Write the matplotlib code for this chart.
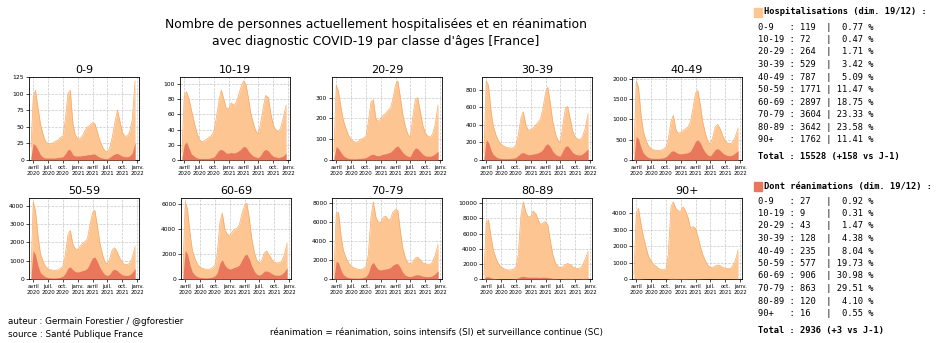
import numpy as np
import pandas as pd
import matplotlib
matplotlib.use("Agg")
import matplotlib.pyplot as plt
from matplotlib.patches import Rectangle

# sampling dates: first day of data, then 1st and 15th of each month, last day
dates = [pd.Timestamp("2020-03-18")]
for m in pd.date_range("2020-04-01", "2021-12-01", freq="MS"):
    dates.append(m)
    if m < pd.Timestamp("2021-12-01"):
        dates.append(m + pd.Timedelta(days=14))
dates.append(pd.Timestamp("2021-12-19"))
dates = pd.DatetimeIndex(dates)

classes = ["0-9", "10-19", "20-29", "30-39", "40-49",
           "50-59", "60-69", "70-79", "80-89", "90+"]

hosp_0_9 = [20, 95, 105, 78, 55, 38, 28, 25, 24, 26, 28, 30, 34, 36, 60, 100, 105, 55, 38, 32, 32, 38,
            45, 50, 52, 56, 55, 42, 30, 20, 14, 12, 18, 35, 55, 75, 60, 42, 36, 36, 42, 60, 119]
hosp_10_19 = [10, 85, 90, 80, 66, 50, 38, 28, 24, 25, 27, 30, 32, 38, 55, 78, 92, 80, 68, 68, 75, 72,
              76, 85, 95, 104, 100, 82, 62, 48, 38, 35, 48, 70, 85, 82, 62, 46, 40, 37, 42, 55, 72]
hosp_20_29 = [40, 360, 330, 250, 190, 150, 120, 100, 90, 85, 90, 100, 105, 115, 180, 280, 290, 200, 185,
              200, 215, 225, 240, 250, 290, 360, 380, 300, 220, 160, 125, 110, 200, 290, 300, 230, 170,
              130, 115, 110, 125, 170, 264]
hosp_30_39 = [80, 900, 850, 550, 380, 280, 220, 180, 160, 145, 140, 135, 140, 170, 280, 480, 550, 400,
              340, 345, 370, 400, 430, 470, 580, 760, 830, 640, 440, 300, 230, 200, 380, 590, 610, 460,
              330, 260, 240, 230, 270, 360, 529]
hosp_40_49 = [150, 1950, 1800, 1100, 700, 480, 350, 280, 250, 240, 235, 240, 270, 320, 500, 950, 1100,
              750, 660, 680, 730, 780, 820, 950, 1250, 1650, 1720, 1350, 950, 650, 470, 390, 550, 820,
              880, 760, 600, 470, 420, 400, 440, 560, 787]
hosp_50_59 = [300, 4200, 3700, 2300, 1400, 950, 700, 560, 500, 480, 470, 500, 580, 700, 1300, 2400,
              2650, 1900, 1650, 1600, 1800, 1950, 2050, 2200, 2900, 3600, 3750, 2900, 2000, 1350, 950,
              800, 1100, 1600, 1700, 1450, 1150, 900, 800, 780, 850, 1150, 1771]
hosp_60_69 = [500, 6200, 5600, 3600, 2300, 1600, 1200, 950, 850, 800, 780, 800, 900, 1100, 2000, 4600,
              5300, 4000, 3600, 3500, 3800, 4000, 4100, 4400, 5200, 5900, 6100, 4800, 3300, 2100, 1500,
              1300, 1500, 2100, 2250, 1900, 1600, 1350, 1300, 1300, 1450, 1900, 2897]
hosp_70_79 = [400, 6900, 7000, 4500, 3000, 2200, 1700, 1400, 1200, 1100, 1000, 1000, 1100, 1300, 2500,
              6500, 8100, 6500, 6000, 5900, 6500, 6600, 6200, 6300, 7000, 7300, 7200, 5000, 3300, 2200,
              1700, 1600, 1800, 2200, 2300, 2000, 1700, 1600, 1550, 1550, 1800, 2500, 3604]
hosp_80_89 = [500, 7500, 7800, 5500, 3800, 2700, 2000, 1600, 1400, 1250, 1200, 1200, 1300, 1600, 3200,
              8500, 10200, 8800, 8200, 8300, 9000, 8600, 7800, 7200, 7400, 7600, 7100, 5000, 3300, 2100,
              1700, 1500, 1600, 1900, 2050, 1900, 1600, 1450, 1400, 1450, 1800, 2600, 3642]
hosp_90 = [300, 4000, 4300, 3300, 2600, 1900, 1400, 1100, 900, 780, 650, 570, 560, 620, 1500, 4400,
           4700, 4300, 4150, 4150, 4400, 4100, 3700, 3100, 3200, 3100, 2600, 2000, 1500, 1100, 850,
           700, 700, 800, 850, 800, 700, 650, 640, 650, 800, 1100, 1762]

rea_0_9 = [4, 25, 22, 15, 8, 4, 3, 3, 3, 3, 3, 4, 4, 5, 9, 16, 15, 8, 6, 6, 6, 7, 7, 8, 8, 9, 9, 6, 4,
           3, 2, 2, 4, 7, 9, 10, 8, 6, 5, 5, 6, 10, 27]
rea_10_19 = [3, 20, 24, 15, 8, 5, 3, 2, 2, 2, 2, 2, 3, 4, 8, 13, 14, 12, 9, 9, 10, 9, 10, 12, 14, 18,
             17, 12, 8, 5, 4, 3, 6, 12, 14, 12, 8, 5, 4, 3, 4, 5, 9]
rea_20_29 = [8, 65, 55, 35, 20, 12, 8, 6, 6, 6, 7, 8, 9, 12, 18, 26, 28, 22, 20, 24, 28, 30, 34, 38, 48,
             62, 68, 52, 36, 24, 18, 16, 40, 58, 55, 40, 28, 20, 18, 18, 22, 30, 43]
rea_30_39 = [20, 230, 200, 110, 60, 35, 22, 18, 16, 15, 16, 18, 20, 30, 50, 78, 85, 70, 60, 62, 68, 75,
             82, 95, 120, 170, 185, 150, 100, 65, 48, 45, 100, 155, 160, 120, 85, 65, 58, 58, 70, 95, 128]
rea_40_49 = [40, 580, 520, 300, 170, 100, 60, 45, 40, 38, 40, 45, 55, 80, 130, 210, 230, 190, 160, 150,
             160, 170, 185, 220, 320, 460, 500, 420, 290, 180, 120, 100, 170, 260, 280, 230, 170, 130,
             110, 105, 125, 170, 235]
rea_50_59 = [100, 1550, 1300, 700, 350, 200, 120, 80, 60, 55, 55, 70, 100, 150, 300, 600, 660, 500, 400,
             380, 420, 460, 500, 600, 850, 1150, 1200, 950, 650, 400, 250, 180, 250, 480, 530, 450, 330,
             230, 200, 190, 230, 350, 577]
rea_60_69 = [200, 2300, 2000, 1100, 550, 300, 180, 130, 100, 90, 90, 110, 160, 250, 500, 1300, 1550,
             1100, 900, 800, 850, 950, 1000, 1150, 1500, 1900, 2000, 1600, 1050, 600, 380, 300, 400, 620,
             650, 560, 430, 330, 300, 300, 380, 560, 906]
rea_70_79 = [150, 1850, 1700, 900, 450, 250, 150, 110, 100, 90, 90, 110, 160, 260, 600, 1500, 1750,
             1300, 1000, 950, 1000, 1050, 1100, 1200, 1450, 1600, 1600, 1200, 700, 400, 280, 250, 300,
             430, 450, 380, 300, 260, 250, 250, 350, 550, 863]
rea_80_89 = [50, 300, 280, 150, 80, 50, 35, 30, 25, 25, 25, 30, 40, 60, 150, 330, 360, 280, 240, 230,
             250, 240, 220, 220, 240, 230, 200, 140, 90, 60, 45, 40, 50, 80, 85, 70, 55, 50, 50, 50, 65,
             90, 120]
rea_90 = [2, 25, 25, 15, 8, 5, 3, 2, 2, 2, 2, 2, 3, 5, 12, 35, 40, 30, 25, 25, 27, 25, 22, 20, 22, 22,
          18, 12, 8, 5, 4, 4, 4, 6, 7, 6, 5, 5, 5, 5, 7, 10, 16]

hosp = [hosp_0_9, hosp_10_19, hosp_20_29, hosp_30_39, hosp_40_49,
        hosp_50_59, hosp_60_69, hosp_70_79, hosp_80_89, hosp_90]
rea = [rea_0_9, rea_10_19, rea_20_29, rea_30_39, rea_40_49,
       rea_50_59, rea_60_69, rea_70_79, rea_80_89, rea_90]

# values on Sunday 19/12 for the summary tables
hosp_last = [119, 72, 264, 529, 787, 1771, 2897, 3604, 3642, 1762]
hosp_pct = [0.77, 0.47, 1.71, 3.42, 5.09, 11.47, 18.75, 23.33, 23.58, 11.41]
rea_last = [27, 9, 43, 128, 235, 577, 906, 863, 120, 16]
rea_pct = [0.92, 0.31, 1.47, 4.38, 8.04, 19.73, 30.98, 29.51, 4.10, 0.55]
hosp_total, hosp_delta = 15528, 158
rea_total, rea_delta = 2936, 3

tick_dates = pd.to_datetime(["2020-04-01", "2020-07-01", "2020-10-01", "2021-01-01",
                             "2021-04-01", "2021-07-01", "2021-10-01", "2022-01-01"])
tick_labels = ["avril\n2020", "juil.\n2020", "oct.\n2020", "janv.\n2021",
               "avril\n2021", "juil.\n2021", "oct.\n2021", "janv.\n2022"]
y_steps = [25, 20, 100, 200, 500, 1000, 2000, 2000, 2000, 1000]

HOSP_COLOR = "#fdc592"
HOSP_EDGE = "#f9aa66"
REA_COLOR = "#e9775c"

W, H = 940, 343
fig = plt.figure(figsize=(W / 100, H / 100), dpi=100)


def px_box(left, top, width, height):
    return [left / W, 1 - (top + height) / H, width / W, height / H]


lefts = [[29, 180, 332, 482, 632], [29, 181, 332, 482, 632]]
tops = [77, 198]
heights = [83, 81]

for k, name in enumerate(classes):
    row, col = divmod(k, 5)
    ax = fig.add_axes(px_box(lefts[row][col], tops[row], 110, heights[row]))
    h = np.array(hosp[k], dtype=float)
    r = np.array(rea[k], dtype=float)
    ax.fill_between(dates, 0, h, color=HOSP_COLOR, lw=0, zorder=2)
    ax.plot(dates, h, color=HOSP_EDGE, lw=0.5, zorder=3)
    ax.fill_between(dates, 0, r, color=REA_COLOR, lw=0, zorder=4)
    ax.set_xlim(pd.Timestamp("2020-03-06"), pd.Timestamp("2022-01-12"))
    ax.set_ylim(0, h.max() * 1.05)
    ax.set_yticks(np.arange(0, h.max() * 1.05 + 1, y_steps[k]))
    ax.set_xticks(tick_dates)
    ax.set_xticklabels(tick_labels)
    ax.tick_params(axis="y", labelsize=4.3, length=2, width=0.5, pad=1.5)
    ax.tick_params(axis="x", labelsize=3.9, length=2, width=0.5, pad=1.5)
    ax.grid(True, linestyle="--", color="#c8c8c8", lw=0.5, zorder=0)
    for sp in ax.spines.values():
        sp.set_linewidth(0.6)
    ax.set_title(name, fontsize=8, pad=3)

fig.text(376 / W, 1 - 33 / H,
         "Nombre de personnes actuellement hospitalisées et en réanimation\n"
         "avec diagnostic COVID-19 par classe d'âges [France]",
         ha="center", va="center", fontsize=8.9, linespacing=1.35)

fig.text(8 / W, 1 - 322 / H, "auteur : Germain Forestier / @gforestier",
         fontsize=6.3, va="center")
fig.text(8 / W, 1 - 334 / H, "source : Santé Publique France", fontsize=6.3, va="center")
fig.text(270 / W, 1 - 333 / H,
         "réanimation = réanimation, soins intensifs (SI) et surveillance continue (SC)",
         fontsize=6.3, va="center")


def summary(top, title, color, values, pcts, total, delta):
    fig.patches.append(Rectangle((754 / W, 1 - (top + 5) / H), 8 / W, 9 / H,
                                 transform=fig.transFigure, color=color))
    fig.text(764 / W, 1 - top / H, title, family="DejaVu Sans Mono",
             fontsize=6.3, fontweight="bold", va="center")
    for i, name in enumerate(classes):
        line = "%-5s : %-4d | %5.2f %%" % (name, values[i], pcts[i])
        fig.text(758 / W, 1 - (top + 15 + 12.5 * i) / H, line,
                 family="DejaVu Sans Mono", fontsize=6.3, va="center")
    fig.text(758 / W, 1 - (top + 145) / H,
             "Total : %d (+%d vs J-1)" % (total, delta),
             family="DejaVu Sans Mono", fontsize=6.3, fontweight="bold", va="center")


summary(12, "Hospitalisations (dim. 19/12) :", HOSP_COLOR,
        hosp_last, hosp_pct, hosp_total, hosp_delta)
summary(186, "Dont réanimations (dim. 19/12) :", REA_COLOR,
        rea_last, rea_pct, rea_total, rea_delta)

fig.savefig("out.png", dpi=100)
